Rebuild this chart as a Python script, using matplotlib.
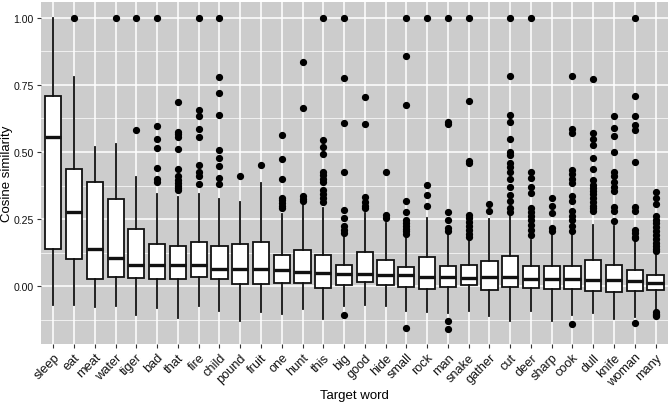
import matplotlib
matplotlib.use("Agg")
import matplotlib.pyplot as plt
from matplotlib.ticker import MultipleLocator

plt.rcParams['font.family'] = ['Liberation Sans', 'DejaVu Sans']

words = ["sleep", "eat", "meat", "water", "tiger", "bad", "that", "fire", "child", "pound",
         "fruit", "one", "hunt", "this", "big", "good", "hide", "small", "rock", "man",
         "snake", "gather", "cut", "deer", "sharp", "cook", "dull", "knife", "woman", "many"]

q1 = [0.14, 0.10, 0.028, 0.036, 0.03, 0.026, 0.026, 0.033, 0.027, 0.01,
      0.009, 0.014, 0.014, -0.008, 0.006, 0.015, 0.005, -0.001, -0.009, -0.002,
      0.005, -0.012, -0.004, -0.005, -0.011, -0.009, -0.017, -0.021, -0.017, -0.014]
med = [0.557, 0.276, 0.14, 0.106, 0.081, 0.08, 0.079, 0.079, 0.066, 0.063,
       0.063, 0.06, 0.055, 0.05, 0.047, 0.046, 0.043, 0.041, 0.036, 0.036,
       0.032, 0.035, 0.033, 0.029, 0.029, 0.029, 0.025, 0.022, 0.02, 0.014]
q3 = [0.71, 0.437, 0.387, 0.325, 0.214, 0.159, 0.149, 0.166, 0.149, 0.158,
      0.164, 0.117, 0.134, 0.116, 0.08, 0.126, 0.099, 0.073, 0.11, 0.075,
      0.078, 0.095, 0.114, 0.075, 0.075, 0.075, 0.099, 0.081, 0.059, 0.042]
whislo = [-0.07, -0.07, -0.078, -0.075, -0.106, -0.079, -0.118, -0.073, -0.091, -0.13,
          -0.095, -0.104, -0.083, -0.122, -0.073, -0.07, -0.073, -0.091, -0.094, -0.10,
          -0.091, -0.112, -0.128, -0.091, -0.128, -0.107, -0.098, -0.12, -0.116, -0.088]
whishi = [1.0, 0.78, 0.52, 0.53, 0.405, 0.344, 0.332, 0.344, 0.326, 0.314,
          0.386, 0.27, 0.31, 0.29, 0.186, 0.273, 0.236, 0.18, 0.254, 0.193,
          0.174, 0.25, 0.261, 0.174, 0.193, 0.193, 0.23, 0.225, 0.165, 0.118]

outliers = [
    [],
    [1.0],
    [],
    [1.0],
    [1.0, 0.583],
    [1.0, 0.596, 0.548, 0.515, 0.442, 0.40, 0.39],
    [0.686, 0.573, 0.565, 0.557, 0.512, 0.437, 0.411, 0.394, 0.385, 0.375, 0.365, 0.36],
    [1.0, 0.656, 0.633, 0.584, 0.554, 0.452, 0.425, 0.411, 0.38],
    [1.0, 0.78, 0.72, 0.636, 0.509, 0.479, 0.448, 0.403, 0.38],
    [0.41],
    [0.453],
    [0.564, 0.474, 0.40, 0.33, 0.32, 0.31, 0.30, 0.29],
    [0.834, 0.664, 0.335, 0.326, 0.318],
    [1.0, 0.544, 0.52, 0.491, 0.427, 0.415, 0.40, 0.39, 0.36, 0.345, 0.33, 0.315],
    [1.0, 0.774, 0.609, 0.424, 0.283, 0.254, 0.223, 0.21, 0.199, -0.107],
    [0.706, 0.604, 0.332, 0.315, 0.30, 0.292],
    [0.427, 0.267, 0.256],
    [1.0, 0.858, 0.673, 0.318, 0.277, 0.248, 0.235, 0.225, 0.215, 0.205, 0.195, -0.155],
    [1.0, 0.378, 0.338, 0.30],
    [1.0, 0.61, 0.603, 0.275, 0.245, 0.217, 0.205, -0.128, -0.157],
    [1.0, 0.689, 0.465, 0.459, 0.267, 0.255, 0.24, 0.225, 0.21, 0.195, 0.182],
    [0.307, 0.279],
    [1.0, 0.784, 0.637, 0.612, 0.548, 0.499, 0.488, 0.458, 0.443, 0.427, 0.40, 0.368,
     0.341, 0.316, 0.292, 0.275],
    [1.0, 0.424, 0.403, 0.368, 0.347, 0.292, 0.275, 0.26, 0.245, 0.23, 0.21, 0.19],
    [0.328, 0.298, 0.271, 0.217, 0.205],
    [0.784, 0.587, 0.569, 0.433, 0.418, 0.40, 0.384, 0.335, 0.316, 0.279, 0.262, 0.245,
     0.225, 0.205, -0.142],
    [0.772, 0.569, 0.548, 0.526, 0.479, 0.437, 0.396, 0.378, 0.365, 0.355, 0.345, 0.33,
     0.315, 0.30, 0.29, 0.279],
    [0.633, 0.588, 0.559, 0.501, 0.427, 0.41, 0.39, 0.37, 0.353, 0.295, 0.279, 0.242],
    [1.0, 0.708, 0.634, 0.60, 0.581, 0.464, 0.295, 0.28, 0.211, 0.198, 0.185, 0.178, -0.137],
    [0.35, 0.33, 0.305, 0.261, 0.245, 0.235, 0.22, 0.205, 0.19, 0.175, 0.16, 0.15, 0.14,
     0.13, -0.097, -0.102, -0.107, -0.112],
]

stats = []
for i in range(len(words)):
    stats.append({"q1": q1[i], "med": med[i], "q3": q3[i],
                  "whislo": whislo[i], "whishi": whishi[i], "fliers": outliers[i]})

fig = plt.figure(figsize=(6.7, 4.06), dpi=100)
ax = fig.add_axes([0.061, 0.150, 0.936, 0.8426])
ax.set_facecolor("#cccccc")

lw = 1.3
ax.bxp(stats, positions=range(1, len(words) + 1), widths=0.78, patch_artist=True,
       showcaps=False,
       boxprops=dict(facecolor="white", edgecolor="#111111", linewidth=lw),
       medianprops=dict(color="#111111", linewidth=2.4, solid_capstyle="butt"),
       whiskerprops=dict(color="#111111", linewidth=lw),
       flierprops=dict(marker="o", markerfacecolor="black", markeredgecolor="black",
                       markersize=4.2, linestyle="none"),
       zorder=3)

ax.set_xlim(0.4, len(words) + 0.6)
ax.set_ylim(-0.215, 1.058)
ax.yaxis.set_major_locator(MultipleLocator(0.25))
ax.yaxis.set_minor_locator(MultipleLocator(0.125))
ax.set_yticks([0.0, 0.25, 0.5, 0.75, 1.0])
ax.set_yticklabels(["0.00", "0.25", "0.50", "0.75", "1.00"])
ax.set_xticks(range(1, len(words) + 1))
ax.set_xticklabels(words, rotation=45, ha="right", va="top", rotation_mode="anchor")

ax.grid(True, which="major", color="white", linewidth=1.1, zorder=0)
ax.grid(True, which="minor", axis="y", color="white", linewidth=0.5, zorder=0)
ax.set_axisbelow(True)
for s in ax.spines.values():
    s.set_visible(False)

ax.tick_params(axis="both", which="major", length=3, width=0.8, color="#333333",
               labelcolor="#111111", pad=2)
ax.tick_params(axis="x", labelsize=9.2)
ax.tick_params(axis="y", labelsize=7.6)
ax.tick_params(axis="y", which="minor", length=0)
ax.set_xlabel("Target word", fontsize=9.5, labelpad=0)
ax.set_ylabel("Cosine similarity", fontsize=9.5, va="center")
ax.yaxis.set_label_coords(-0.054, 0.5)

fig.savefig("out.png", dpi=100)
